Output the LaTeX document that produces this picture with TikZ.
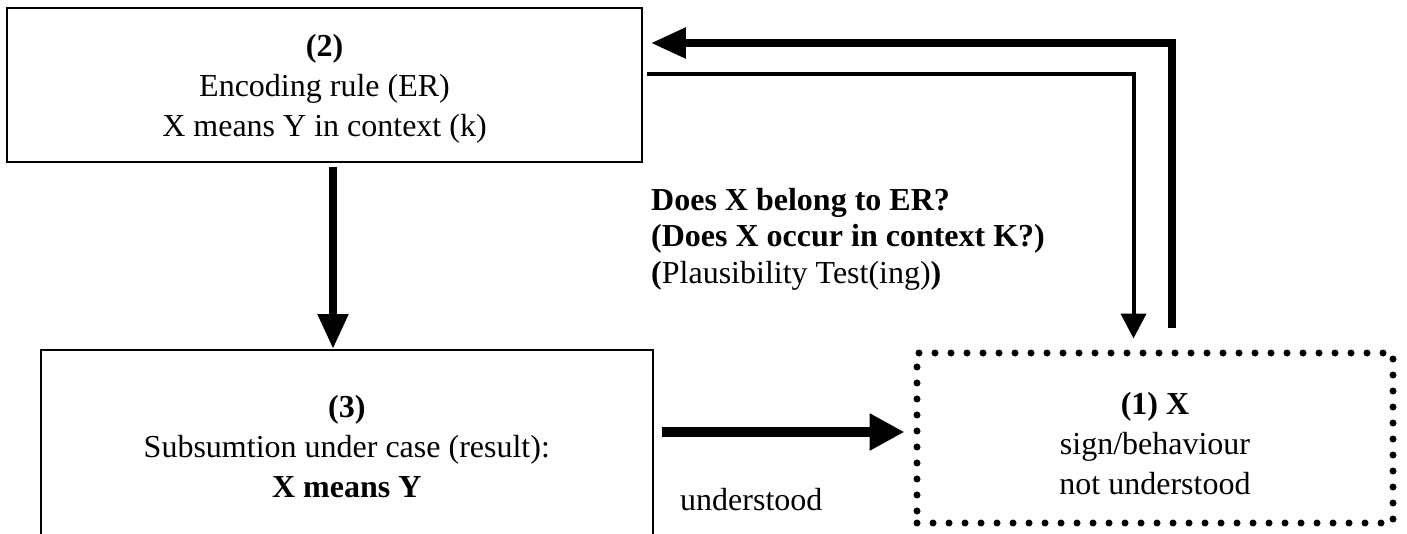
\documentclass[tikz,border=0pt]{standalone}
\usepackage{fontspec}
\setmainfont{Liberation Serif}
\usetikzlibrary{arrows.meta}
\begin{document}
\begin{tikzpicture}[x=1pt,y=-1pt,
  txt/.style={font=\fontsize{32}{40}\selectfont, align=center, inner sep=0pt},
  box/.style={draw, line width=1.6pt, inner sep=0pt},
  dotbox/.style={draw, line width=7pt, dash pattern=on 0pt off 16pt,
    line cap=round, inner sep=0pt},
  bigarrow/.style={line width=8pt, -{Triangle[length=35pt,width=29pt]}},
  widearrow/.style={line width=9.5pt, -{Triangle[length=35pt,width=35pt]}},
  thinarrow/.style={line width=4pt, -{Triangle[length=25pt,width=25pt]}}
]
\useasboundingbox (0,0) rectangle (1407,533);

% helper coordinates for connector routes
\coordinate (tx)  at (333,0);
\coordinate (hy)  at (0,432);
\coordinate (rx)  at (1171.5,0);
\coordinate (ty)  at (0,43);
\coordinate (lx)  at (1133.5,0);
\coordinate (ty2) at (0,73.5);

% boxes
\node[box, minimum width=635pt, minimum height=154pt] (n2) at (324.5,85) {};
\node[box, anchor=north west, minimum width=612pt, minimum height=194pt] (n3) at (40,349) {};
\node[dotbox, minimum width=476pt, minimum height=170pt] (n1) at (1155,438) {};

% box texts
\node[txt] (t2) at ([yshift=-4pt]n2.center)
  {\textbf{(2)}\\Encoding rule (ER)\\X means Y in context (k)};
\node[txt] (t3) at (n3.center)
  {\textbf{(3)}\\Subsumtion under case (result):\\\textbf{X means Y}};
\node[txt] (t1) at ([yshift=-6pt]n1.center)
  {\textbf{(1) X}\\sign/behaviour\\not understood};

% labels
\node[anchor=north west, align=left, inner sep=0pt, font=\fontsize{32}{36.5}\selectfont] (q) at (651,188)
  {\textbf{Does X belong to ER?}\\\textbf{(Does X occur in context K?)}\\\textbf{(}Plausibility Test(ing)\textbf{)}};
\node[font=\fontsize{32}{40}\selectfont, anchor=base west, inner sep=0pt] (u) at (680,510) {understood};

% connectors
\draw[bigarrow, shorten <=4pt] (n2.south -| tx) -- (n3.north -| tx);
\draw[widearrow, shorten <=8pt, shorten >=9pt] (n3.east |- hy) -- (n1.west |- hy);
\draw[bigarrow, shorten <=22pt, shorten >=8pt] (n1.north -| rx) |- (n2.east |- ty);
\draw[thinarrow, shorten <=4pt, shorten >=11pt] (n2.east |- ty2) -| (n1.north -| lx);
\end{tikzpicture}
\end{document}
